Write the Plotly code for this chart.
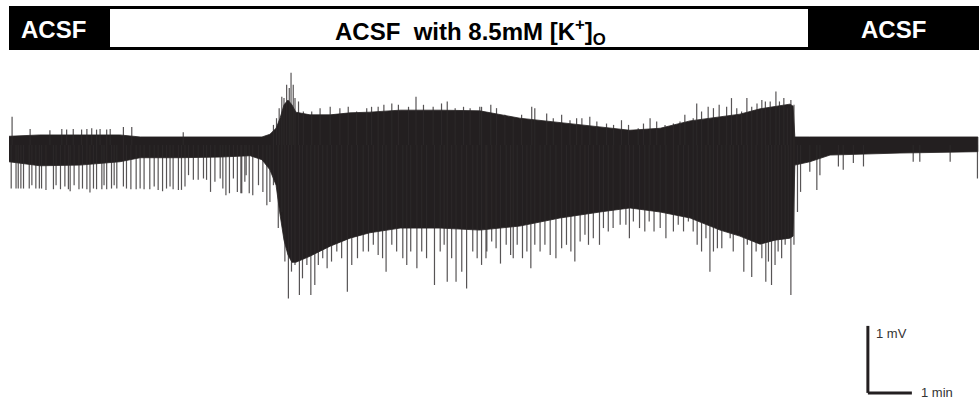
import plotly.graph_objects as go

# ---- data (time in min, potential in mV) ----
env_t = [0.00, 0.70, 1.61, 2.52, 2.98, 3.89, 4.80, 5.48, 5.75, 5.93, 6.07, 6.16, 6.25, 6.34,
         6.43, 6.52, 6.84, 7.30, 7.75, 8.20, 8.89, 9.80, 10.70, 11.61, 12.52, 13.43, 14.11,
         14.80, 15.48, 16.16, 16.61, 17.07, 17.41, 17.75, 17.82, 17.86, 18.20, 18.66, 20.25, 22.02]
env_upper = [0.13, 0.15, 0.15, 0.15, 0.12, 0.12, 0.12, 0.12, 0.12, 0.16, 0.25, 0.40, 0.60, 0.67,
             0.60, 0.49, 0.45, 0.45, 0.48, 0.49, 0.52, 0.52, 0.51, 0.40, 0.34, 0.27, 0.22,
             0.25, 0.36, 0.42, 0.46, 0.54, 0.58, 0.61, 0.58, 0.12, 0.12, 0.12, 0.12, 0.12]
env_lower = [-0.25, -0.31, -0.30, -0.25, -0.19, -0.19, -0.18, -0.16, -0.22, -0.37, -0.60, -1.04,
             -1.42, -1.64, -1.75, -1.75, -1.66, -1.51, -1.39, -1.31, -1.24, -1.24, -1.27, -1.21,
             -1.09, -1.00, -0.94, -1.00, -1.09, -1.27, -1.36, -1.48, -1.42, -1.39, -1.36, -0.30,
             -0.25, -0.15, -0.12, -0.10]

down_t = [0.05, 0.16, 0.21, 0.27, 0.33, 0.46, 0.52, 0.61, 0.69, 0.74, 0.84, 1.01, 1.07, 1.17,
          1.27, 1.35, 1.39, 1.48, 1.59, 1.67, 1.77, 1.84, 1.92, 1.99, 2.11, 2.16, 2.22, 2.33,
          2.39, 2.45, 2.60, 2.67, 2.77, 2.89, 2.98, 3.07, 3.20, 3.30, 3.39, 3.49, 3.58, 3.66,
          3.73, 3.85, 3.92, 4.00, 4.08, 4.19, 4.30, 4.42, 4.49, 4.58, 4.68, 4.80, 4.86, 4.93,
          5.01, 5.10, 5.19, 5.27, 5.36, 5.46,
          5.29, 5.39, 5.54, 5.67, 5.77, 5.86, 5.93, 6.01, 6.12, 6.20, 6.27, 6.35, 6.42, 6.50,
          6.60, 6.67, 6.77, 6.86, 6.95, 7.03, 7.13, 7.23, 7.33, 7.45, 7.56, 7.69, 7.79, 7.92,
          8.05, 8.17, 8.28, 8.39, 8.49, 8.57, 8.70, 8.81, 8.95, 9.04, 9.13, 9.27, 9.38, 9.49,
          9.67, 9.80, 9.89, 9.96, 10.06, 10.16, 10.29, 10.40, 10.54, 10.64, 10.74, 10.86,
          10.84, 10.97, 11.07, 11.17, 11.30, 11.40, 11.46, 11.55, 11.67, 11.77, 11.86, 11.95,
          12.07, 12.18, 12.30, 12.43, 12.56, 12.67, 12.77, 12.86, 12.98, 13.09, 13.17, 13.28,
          13.42, 13.51, 13.62, 13.73, 13.89, 14.02, 14.10, 14.19, 14.33, 14.45, 14.55, 14.66,
          14.80, 14.93, 15.10, 15.21, 15.33, 15.44, 15.55, 15.64, 15.74, 15.84, 15.93, 16.01,
          16.10, 16.20, 16.30, 16.39, 16.46, 16.58, 16.70, 16.78, 16.88, 16.98, 17.11, 17.20,
          17.26, 17.33, 17.41, 17.48, 17.56, 17.64, 17.71, 17.77, 17.84, 17.92, 17.99, 18.20,
          18.36, 18.43, 18.85, 18.96, 19.19, 19.42, 20.55, 20.70, 21.39, 22.01]
down_v = [-0.65, -0.65, -0.65, -0.65, -0.65, -0.65, -0.60, -0.65, -0.65, -0.65, -0.67, -0.66,
          -0.60, -0.66, -0.62, -0.66, -0.69, -0.60, -0.66, -0.65, -0.66, -0.71, -0.65, -0.66,
          -0.66, -0.60, -0.66, -0.65, -0.60, -0.65, -0.62, -0.65, -0.66, -0.66, -0.65, -0.66,
          -0.66, -0.62, -0.67, -0.69, -0.65, -0.62, -0.66, -0.67, -0.67, -0.62, -0.45, -0.52,
          -0.52, -0.50, -0.52, -0.70, -0.55, -0.50, -0.65, -0.75, -0.72, -0.50, -0.70, -0.72,
          -0.55, -0.72,
          -0.72, -0.45, -0.75, -0.60, -0.70, -0.90, -0.85, -0.60, -1.24, -1.00, -1.74, -2.29,
          -1.89, -1.79, -2.24, -1.99, -1.79, -2.24, -2.09, -1.79, -1.69, -1.84, -1.74, -1.59,
          -1.69, -2.19, -1.79, -1.69, -1.59, -1.59, -1.49, -1.64, -1.69, -1.89, -1.49, -1.59,
          -1.69, -1.79, -1.59, -1.84, -1.59, -1.69, -2.09, -1.59, -1.49, -2.04, -1.69, -2.04,
          -1.89, -2.14, -1.59, -1.69, -1.79, -1.59,
          -1.69, -1.44, -1.54, -1.77, -1.49, -1.64, -1.69, -1.49, -1.69, -1.59, -1.84, -1.49,
          -1.59, -1.49, -1.64, -1.69, -1.54, -1.49, -1.59, -1.74, -1.44, -1.34, -1.49, -1.39,
          -1.49, -1.24, -1.29, -1.24, -1.19, -1.19, -1.39, -1.14, -1.24, -1.29, -1.14, -1.29,
          -1.24, -1.39, -1.29, -1.19, -1.29, -1.14, -1.29, -1.49, -1.59, -1.39, -1.89, -1.59,
          -1.54, -1.54, -1.29, -1.39, -1.59, -1.29, -1.89, -1.49, -1.97, -1.59, -1.69, -2.04,
          -1.74, -2.09, -1.79, -1.59, -1.69, -1.49, -1.39, -2.24, -1.49, -1.00, -0.70, -0.40,
          -0.67, -0.45, -0.32, -0.37, -0.27, -0.32, -0.25, -0.25, -0.25, -0.50]

up_t = [0.07, 0.48, 0.93, 1.20, 1.31, 1.46, 1.65, 1.77, 1.88, 1.99, 2.07, 2.22, 2.30, 2.60,
        2.79, 3.96,
        6.01, 6.08, 6.14, 6.20, 6.25, 6.31, 6.37, 6.41, 6.46, 6.50, 6.58, 6.69, 6.88, 7.07,
        7.30, 7.52, 7.71, 7.90, 8.13, 8.24, 8.39, 8.52, 8.70, 8.85, 9.08, 9.25, 9.42, 9.64,
        9.83, 9.96, 10.14, 10.33, 10.48, 10.70,
        10.74, 10.95, 11.08, 11.27, 11.46, 11.65, 11.88, 11.95, 12.22, 12.37, 12.56, 12.75,
        12.90, 13.02, 13.20, 13.36, 13.58, 13.74, 13.92, 14.08, 14.30, 14.42, 14.57, 14.72,
        14.91, 15.10, 15.25, 15.36, 15.55, 15.63, 15.74, 15.89, 16.01, 16.14, 16.31,
        16.42, 16.54, 16.65, 16.77, 16.88, 17.00, 17.11, 17.19, 17.30, 17.43, 17.51, 17.61,
        17.69, 17.77, 17.84]
up_v = [0.42, 0.24, 0.22, 0.24, 0.23, 0.24, 0.23, 0.24, 0.25, 0.23, 0.24, 0.23, 0.24, 0.27,
        0.27, 0.19,
        0.30, 0.40, 0.55, 0.72, 0.70, 0.90, 0.85, 1.08, 0.90, 0.70, 0.65, 0.50, 0.50, 0.55,
        0.57, 0.55, 0.57, 0.50, 0.55, 0.57, 0.57, 0.60, 0.62, 0.60, 0.57, 0.72, 0.60, 0.57,
        0.62, 0.65, 0.55, 0.57, 0.55, 0.57,
        0.57, 0.60, 0.55, 0.45, 0.40, 0.45, 0.57, 0.55, 0.47, 0.40, 0.45, 0.37,
        0.40, 0.40, 0.42, 0.35, 0.32, 0.30, 0.37, 0.30, 0.25, 0.32, 0.40, 0.35,
        0.30, 0.32, 0.35, 0.45, 0.40, 0.62, 0.50, 0.57, 0.55, 0.60, 0.57,
        0.70, 0.55, 0.50, 0.70, 0.57, 0.62, 0.67, 0.65, 0.65, 0.80, 0.65, 0.70,
        0.55, 0.67, 0.60]

bar_labels = ["ACSF", "ACSF\u00a0\u00a0with 8.5mM [K<sup>+</sup>]<sub>O</sub>", "ACSF"]
scale_mv = 1.0
scale_min = 1.0
scale_origin_t = 19.52
scale_origin_v = -3.70

INK = "#231f20"
W, H = 979, 401

fig = go.Figure()

# dense part of the recording
fig.add_trace(go.Scatter(
    x=env_t + env_t[::-1], y=env_upper + env_lower[::-1],
    fill="toself", fillcolor=INK, mode="lines",
    line=dict(color=INK, width=0.8), hoverinfo="skip", showlegend=False))

def segs(ts, vs):
    xs, ys = [], []
    for t, v in zip(ts, vs):
        xs += [t, t, None]
        ys += [0, v, None]
    return xs, ys

dx, dy = segs(down_t, down_v)
fig.add_trace(go.Scatter(x=dx, y=dy, mode="lines",
                         line=dict(color="rgba(45,41,42,0.8)", width=1.2),
                         hoverinfo="skip", showlegend=False))
ux, uy = segs(up_t, up_v)
fig.add_trace(go.Scatter(x=ux, y=uy, mode="lines",
                         line=dict(color="rgba(45,41,42,0.8)", width=1.2),
                         hoverinfo="skip", showlegend=False))

# scale bar
o_t, o_v = scale_origin_t, scale_origin_v
fig.add_shape(type="line", xref="x", yref="y", x0=o_t, x1=o_t, y0=o_v, y1=o_v + scale_mv,
              line=dict(color=INK, width=3))
fig.add_shape(type="line", xref="x", yref="y", x0=o_t, x1=o_t + scale_min, y0=o_v, y1=o_v,
              line=dict(color=INK, width=3))
fig.add_annotation(x=o_t + 0.14, y=o_v + scale_mv * 0.88, xref="x", yref="y",
                   text="1 mV", showarrow=False, xanchor="left", yanchor="middle",
                   font=dict(family="Liberation Sans, Arial", size=13, color="#333"))
fig.add_annotation(x=o_t + scale_min + 0.16, y=o_v, xref="x", yref="y",
                   text="1 min", showarrow=False, xanchor="left", yanchor="middle",
                   font=dict(family="Liberation Sans, Arial", size=13, color="#333"))

# solution bar at top
def px(x):
    return x / W

def py(y):
    return 1 - y / H

fig.add_shape(type="rect", xref="paper", yref="paper", x0=px(9), x1=1.0, y0=py(50), y1=py(6),
              fillcolor="black", line=dict(width=0), layer="above")
fig.add_shape(type="rect", xref="paper", yref="paper", x0=px(110), x1=px(808), y0=py(47),
              y1=py(9), fillcolor="white", line=dict(width=0), layer="above")
hdr_font = dict(family="Liberation Sans, Arial", size=24)
fig.add_annotation(x=px(53), y=py(29), xref="paper", yref="paper", text="<b>%s</b>" % bar_labels[0],
                   showarrow=False, xanchor="center", yanchor="middle",
                   font=dict(color="white", **hdr_font))
fig.add_annotation(x=px(333), y=py(32), xref="paper", yref="paper", text="<b>%s</b>" % bar_labels[1],
                   showarrow=False, xanchor="left", yanchor="middle",
                   font=dict(color="black", **hdr_font))
fig.add_annotation(x=px(893), y=py(29), xref="paper", yref="paper", text="<b>%s</b>" % bar_labels[2],
                   showarrow=False, xanchor="center", yanchor="middle",
                   font=dict(color="white", **hdr_font))

fig.update_layout(
    width=W, height=H, margin=dict(l=0, r=0, t=0, b=0),
    paper_bgcolor="white", plot_bgcolor="white",
    xaxis=dict(range=[-9 / 44, 970 / 44], visible=False, fixedrange=True),
    yaxis=dict(range=[(145 - 401) / 67, 145 / 67], visible=False, fixedrange=True),
    showlegend=False,
)

fig.write_html("out.html", config={"displayModeBar": False},
               post_script="document.body.style.margin='0';document.body.style.overflow='hidden';")
